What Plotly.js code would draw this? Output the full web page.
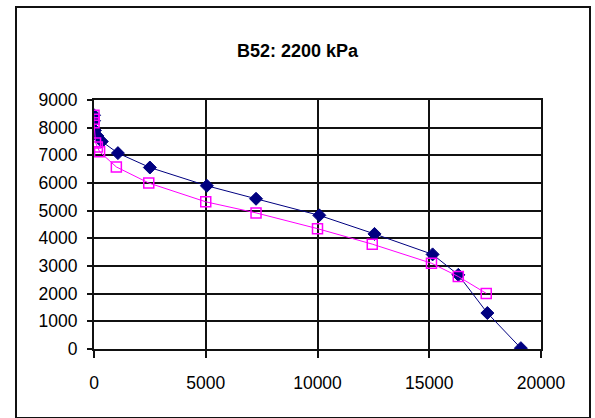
<!DOCTYPE html>
<html>
<head>
<meta charset="utf-8">
<script src="https://cdn.plot.ly/plotly-3.0.1.min.js"></script>
<style>
  html, body { margin: 0; padding: 0; background: #fff; }
  #wrap { position: relative; width: 595px; height: 418px; }
  #chart { width: 595px; height: 418px; }
  #frame { position: absolute; left: 15px; top: 6px; width: 572px; height: 409px;
           border: 2px solid #111; pointer-events: none; }
</style>
</head>
<body>
<div id="wrap">
  <div id="chart"></div>
  <div id="frame"></div>
</div>
<script>
const titleText = "B52: 2200 kPa";

const blueX = [0, 0, 40, 150, 350, 1070, 2500, 5050, 7250, 10080, 12550, 15150, 16300, 17600, 19100];
const blueY = [8450, 8250, 7900, 7700, 7500, 7080, 6560, 5900, 5430, 4830, 4160, 3420, 2680, 1300, 30];

const pinkX = [0, 0, 0, 70, 150, 250, 1000, 2450, 5000, 7250, 10000, 12450, 15100, 16300, 17550];
const pinkY = [8450, 8300, 8180, 7450, 7300, 7130, 6580, 6000, 5320, 4920, 4350, 3790, 3100, 2620, 2010];

const xTicks = [0, 5000, 10000, 15000, 20000];
const yTicks = [0, 1000, 2000, 3000, 4000, 5000, 6000, 7000, 8000, 9000];

const tickFont = { family: "Arial, 'Liberation Sans', sans-serif", size: 17.5, color: "#000" };

const traces = [
  {
    x: blueX, y: blueY, type: "scatter", mode: "lines+markers",
    line: { color: "#000080", width: 1 },
    marker: { symbol: "diamond", size: 10, color: "#000080", line: { color: "#000080", width: 1 } },
    showlegend: false
  },
  {
    x: pinkX, y: pinkY, type: "scatter", mode: "lines+markers",
    line: { color: "#FF00FF", width: 1 },
    marker: { symbol: "square-open", size: 10, color: "#FF00FF", line: { color: "#FF00FF", width: 1.5 } },
    showlegend: false
  }
];

const layout = {
  width: 595, height: 418,
  margin: { l: 94, r: 54, t: 100, b: 69 },
  paper_bgcolor: "#fff", plot_bgcolor: "#fff",
  title: {
    text: "<b>" + titleText + "</b>",
    font: { family: "Arial, 'Liberation Sans', sans-serif", size: 18, color: "#000" },
    x: 0.5, xanchor: "center", y: 1 - 51 / 418, yanchor: "middle", yref: "container"
  },
  xaxis: {
    range: [0, 20000], tickvals: xTicks, ticktext: xTicks.map(String),
    showgrid: true, gridcolor: "#111", gridwidth: 2,
    showline: true, linecolor: "#111", linewidth: 2, mirror: true,
    zeroline: false, ticks: "outside", ticklen: 7, tickcolor: "#111", tickwidth: 2,
    ticklabelstandoff: 10,
    tickfont: tickFont, fixedrange: true
  },
  yaxis: {
    range: [0, 9000], tickvals: yTicks, ticktext: yTicks.map(String),
    showgrid: true, gridcolor: "#111", gridwidth: 2,
    showline: true, linecolor: "#111", linewidth: 2, mirror: true,
    zeroline: false, ticks: "outside", ticklen: 5, tickcolor: "#111", tickwidth: 2,
    ticklabelstandoff: 6,
    tickfont: tickFont, fixedrange: true
  }
};

Plotly.newPlot("chart", traces, layout, { staticPlot: true, displayModeBar: false });
</script>
</body>
</html>
